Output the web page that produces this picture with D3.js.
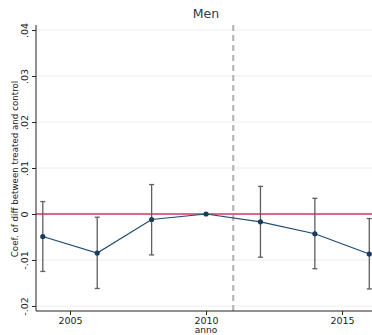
<!DOCTYPE html>
<html><head><meta charset="utf-8">
<script src="https://cdn.jsdelivr.net/npm/d3@7"></script>
<style>body{margin:0;background:#fff}svg{display:block}</style>
</head><body>
<svg id="c" width="372" height="335"></svg>
<script>
const years = [2004, 2006, 2008, 2010, 2012, 2014, 2016];
const coef  = [-0.0049, -0.0085, -0.0012, 0.0, -0.0017, -0.0043, -0.0087];
const ciLow = [-0.0125, -0.0162, -0.0089, 0.0, -0.0094, -0.0119, -0.0163];
const ciHigh= [0.0027, -0.0007, 0.0064, 0.0, 0.0060, 0.0034, -0.0010];
const yTicks = [-0.02, -0.01, 0, 0.01, 0.02, 0.03, 0.04];
const yTickLabels = ["-.02", "-.01", "0", ".01", ".02", ".03", ".04"];
const xTicks = [2005, 2010, 2015];
const treatYear = 2011;

const svg = d3.select("#c");
const L = 36, R = 372, T = 25, B = 311;
const x = d3.scaleLinear().domain([2003.75, 2016.1]).range([L, R]);
const y = d3.scaleLinear().domain([-0.0211, 0.0411]).range([B, T]);

// gridlines
svg.append("g").selectAll("line").data(yTicks).join("line")
  .attr("x1", L).attr("x2", R).attr("y1", d => y(d)).attr("y2", d => y(d))
  .attr("stroke", "#eaf0f0").attr("stroke-width", 1);

// zero line
svg.append("line").attr("x1", L).attr("x2", R).attr("y1", y(0)).attr("y2", y(0))
  .attr("stroke", "#d8395f").attr("stroke-width", 1.5);

// dashed treatment line
svg.append("line").attr("x1", x(treatYear)).attr("x2", x(treatYear)).attr("y1", T).attr("y2", B)
  .attr("stroke", "#b0b0b0").attr("stroke-width", 2).attr("stroke-dasharray", "6,4");

// axes
const yAxis = d3.axisLeft(y).tickValues(yTicks).tickFormat((d, i) => yTickLabels[i]).tickSize(4).tickSizeOuter(0);
const gy = svg.append("g").attr("transform", `translate(${L},0)`).call(yAxis);
gy.select(".domain").attr("stroke", "#222").attr("d", `M0,${T}V${B}`);
gy.selectAll(".tick line").attr("stroke", "#222");
gy.selectAll(".tick text").attr("transform", "rotate(-90)").attr("x", 0).attr("y", -8)
  .attr("dy", "0").attr("text-anchor", "middle")
  .style("font-family", "DejaVu Sans").style("font-size", "9.5px").attr("fill", "#222");

const xAxis = d3.axisBottom(x).tickValues(xTicks).tickFormat(d3.format("d")).tickSize(4).tickSizeOuter(0);
const gx = svg.append("g").attr("transform", `translate(0,${B})`).call(xAxis);
gx.select(".domain").attr("stroke", "#222").attr("d", `M${L},0H${R}`);
gx.selectAll(".tick line").attr("stroke", "#222");
gx.selectAll(".tick text").attr("y", 6).style("font-family", "DejaVu Sans").style("font-size", "9.5px").attr("fill", "#222");

// error bars
const data = years.map((yr, i) => ({yr, c: coef[i], lo: ciLow[i], hi: ciHigh[i]}));
const eb = svg.append("g").selectAll("g").data(data.filter(d => d.hi !== d.lo)).join("g")
  .attr("stroke", "#5e5e5e").attr("stroke-width", 1.3);
eb.append("line").attr("x1", d => x(d.yr)).attr("x2", d => x(d.yr)).attr("y1", d => y(d.lo)).attr("y2", d => y(d.hi));
eb.append("line").attr("x1", d => x(d.yr) - 2.5).attr("x2", d => x(d.yr) + 2.5).attr("y1", d => y(d.lo)).attr("y2", d => y(d.lo));
eb.append("line").attr("x1", d => x(d.yr) - 2.5).attr("x2", d => x(d.yr) + 2.5).attr("y1", d => y(d.hi)).attr("y2", d => y(d.hi));

// line + points
svg.append("path").datum(data).attr("fill", "none").attr("stroke", "#1f4a73").attr("stroke-width", 1.2)
  .attr("d", d3.line().x(d => x(d.yr)).y(d => y(d.c)));
svg.append("g").selectAll("circle").data(data).join("circle")
  .attr("cx", d => x(d.yr)).attr("cy", d => y(d.c)).attr("r", 2.6).attr("fill", "#1c3b5c");

// titles
svg.append("text").attr("x", 206).attr("y", 18).attr("text-anchor", "middle")
  .style("font-family", "DejaVu Sans").style("font-size", "12.5px").attr("fill", "#2b3857").text("Men");
svg.append("text").attr("x", 206).attr("y", 333).attr("text-anchor", "middle")
  .style("font-family", "DejaVu Sans").style("font-size", "9px").attr("fill", "#222").text("anno");
svg.append("text").attr("transform", `translate(17.5,169) rotate(-90)`).attr("text-anchor", "middle")
  .style("font-family", "DejaVu Sans").style("font-size", "8.7px").attr("fill", "#222")
  .text("Coef. of diff between treated and control");
</script>
</body></html>
